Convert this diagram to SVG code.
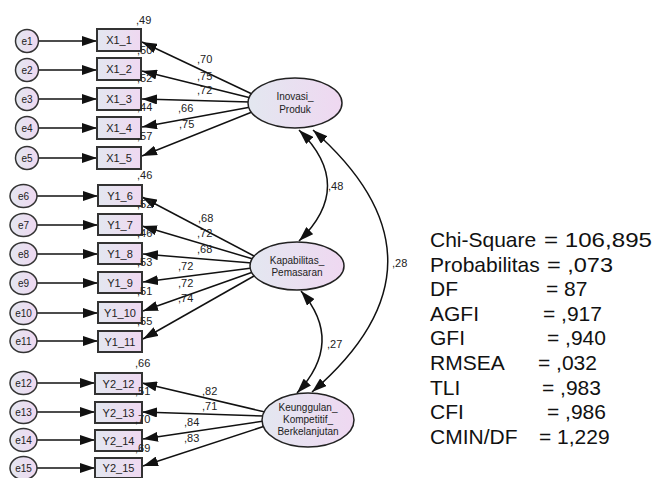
<svg xmlns="http://www.w3.org/2000/svg" width="655" height="478" viewBox="0 0 655 478">
<defs>
<linearGradient id="g" x1="0" y1="0" x2="1" y2="0">
<stop offset="0" stop-color="#e3e7f0"/>
<stop offset="1" stop-color="#efd8f1"/>
</linearGradient>
<marker id="ah" viewBox="0 0 15 10" refX="15" refY="5" markerWidth="15" markerHeight="10" markerUnits="userSpaceOnUse" orient="auto-start-reverse">
<path d="M0,0 L15,5 L0,10 z" fill="#111"/>
</marker>
<style>
.box{fill:url(#g);stroke:#333;stroke-width:2}
.err{fill:url(#g);stroke:#333;stroke-width:1.5}
.lat{fill:url(#g);stroke:#222;stroke-width:1.5}
.t{font-family:"Liberation Sans",Arial,sans-serif;font-size:11px;fill:#222}
.tc{font-family:"Liberation Sans",Arial,sans-serif;font-size:11px;fill:#222;text-anchor:middle}
.te{font-family:"Liberation Sans",Arial,sans-serif;font-size:10px;fill:#222;text-anchor:middle}
.tl{font-family:"Liberation Sans",Arial,sans-serif;font-size:10px;fill:#222;text-anchor:middle}
.ln{fill:none;stroke:#111;stroke-width:1.5;marker-end:url(#ah)}
.cv{fill:none;stroke:#111;stroke-width:1.5;marker-end:url(#ah);marker-start:url(#ah)}
.st{font-family:"Liberation Sans",Arial,sans-serif;font-size:21px;fill:#111}
</style>
</defs>
<rect width="655" height="478" fill="#fff"/>

<g id="connectors">
<line class="ln" x1="38.5" y1="41" x2="97" y2="41"/>
<line class="ln" x1="38.5" y1="70" x2="97" y2="70"/>
<line class="ln" x1="38.5" y1="99" x2="97" y2="99"/>
<line class="ln" x1="38.5" y1="128" x2="97" y2="128"/>
<line class="ln" x1="38.5" y1="158" x2="97" y2="158"/>
<line class="ln" x1="37" y1="196" x2="98" y2="196"/>
<line class="ln" x1="37" y1="225" x2="98" y2="225"/>
<line class="ln" x1="37" y1="254" x2="98" y2="254"/>
<line class="ln" x1="37" y1="283" x2="98" y2="283"/>
<line class="ln" x1="37" y1="313" x2="98" y2="313"/>
<line class="ln" x1="37" y1="341" x2="98" y2="341"/>
<line class="ln" x1="37" y1="383" x2="95" y2="383"/>
<line class="ln" x1="37" y1="412" x2="95" y2="412"/>
<line class="ln" x1="37" y1="440" x2="95" y2="440"/>
<line class="ln" x1="37" y1="468" x2="95" y2="468"/>
<line class="ln" x1="252" y1="94" x2="142" y2="42"/>
<line class="ln" x1="251" y1="98" x2="142" y2="71"/>
<line class="ln" x1="250" y1="102" x2="142" y2="99"/>
<line class="ln" x1="251" y1="107" x2="142" y2="127"/>
<line class="ln" x1="252" y1="112" x2="142" y2="156"/>
<line class="ln" x1="254" y1="256" x2="142" y2="197"/>
<line class="ln" x1="253" y1="259" x2="142" y2="226"/>
<line class="ln" x1="252" y1="263" x2="143" y2="254"/>
<line class="ln" x1="252" y1="268" x2="143" y2="282"/>
<line class="ln" x1="253" y1="272" x2="143" y2="311"/>
<line class="ln" x1="254" y1="276" x2="143" y2="339"/>
<line class="ln" x1="265" y1="412" x2="142" y2="383"/>
<line class="ln" x1="264" y1="416" x2="142" y2="412"/>
<line class="ln" x1="264" y1="421" x2="143" y2="439"/>
<line class="ln" x1="265" y1="426" x2="143" y2="466"/>
<path class="cv" d="M299,130 Q356,186 299,241"/>
<path class="cv" d="M313,130 Q463,262 312,392"/>
<path class="cv" d="M301,291 Q345,342 297,393"/>
<text class="t" x="197" y="63">,70</text>
<text class="t" x="197" y="80">,75</text>
<text class="t" x="197" y="94">,72</text>
<text class="t" x="178" y="112">,66</text>
<text class="t" x="179" y="128">,75</text>
<text class="t" x="198" y="222">,68</text>
<text class="t" x="197" y="237">,72</text>
<text class="t" x="197" y="253">,68</text>
<text class="t" x="178" y="270">,72</text>
<text class="t" x="178" y="287">,72</text>
<text class="t" x="178" y="302">,74</text>
<text class="t" x="202" y="395">,82</text>
<text class="t" x="202" y="410">,71</text>
<text class="t" x="184" y="426">,84</text>
<text class="t" x="184" y="442">,83</text>
<text class="t" x="328" y="190">,48</text>
<text class="t" x="392" y="267">,28</text>
<text class="t" x="327" y="348">,27</text>
</g>

<g id="e1"><circle class="err" cx="27" cy="41" r="11.5"/><text class="te" x="27" y="44.5">e1</text></g>
<g id="e2"><circle class="err" cx="27" cy="70" r="11.5"/><text class="te" x="27" y="73.5">e2</text></g>
<g id="e3"><circle class="err" cx="27" cy="99" r="11.5"/><text class="te" x="27" y="102.5">e3</text></g>
<g id="e4"><circle class="err" cx="27" cy="128" r="11.5"/><text class="te" x="27" y="131.5">e4</text></g>
<g id="e5"><circle class="err" cx="27" cy="158" r="11.5"/><text class="te" x="27" y="161.5">e5</text></g>
<g id="e6"><ellipse class="err" cx="23.5" cy="196" rx="13.5" ry="11.5"/><text class="te" x="23.5" y="199.5">e6</text></g>
<g id="e7"><ellipse class="err" cx="23.5" cy="225" rx="13.5" ry="11.5"/><text class="te" x="23.5" y="228.5">e7</text></g>
<g id="e8"><ellipse class="err" cx="23.5" cy="254" rx="13.5" ry="11.5"/><text class="te" x="23.5" y="257.5">e8</text></g>
<g id="e9"><ellipse class="err" cx="23.5" cy="283" rx="13.5" ry="11.5"/><text class="te" x="23.5" y="286.5">e9</text></g>
<g id="e10"><ellipse class="err" cx="23.5" cy="313" rx="13.5" ry="11.5"/><text class="te" x="23.5" y="316.5">e10</text></g>
<g id="e11"><ellipse class="err" cx="23.5" cy="341" rx="13.5" ry="11.5"/><text class="te" x="23.5" y="344.5">e11</text></g>
<g id="e12"><ellipse class="err" cx="23.5" cy="383" rx="13.5" ry="11.5"/><text class="te" x="23.5" y="386.5">e12</text></g>
<g id="e13"><ellipse class="err" cx="23.5" cy="412" rx="13.5" ry="11.5"/><text class="te" x="23.5" y="415.5">e13</text></g>
<g id="e14"><ellipse class="err" cx="23.5" cy="440" rx="13.5" ry="11.5"/><text class="te" x="23.5" y="443.5">e14</text></g>
<g id="e15"><ellipse class="err" cx="23.5" cy="468" rx="13.5" ry="11.5"/><text class="te" x="23.5" y="471.5">e15</text></g>

<g id="X1_1"><rect class="box" x="97" y="29" width="44" height="22"/><text class="tc" x="119" y="44">X1_1</text><text class="t" x="136" y="24">,49</text></g>
<g id="X1_2"><rect class="box" x="97" y="58" width="44" height="22"/><text class="tc" x="119" y="73">X1_2</text><text class="t" x="137" y="54">,50</text></g>
<g id="X1_3"><rect class="box" x="97" y="88" width="44" height="22"/><text class="tc" x="119" y="103">X1_3</text><text class="t" x="137" y="82">,52</text></g>
<g id="X1_4"><rect class="box" x="97" y="117" width="44" height="22"/><text class="tc" x="119" y="132">X1_4</text><text class="t" x="137" y="111">,44</text></g>
<g id="X1_5"><rect class="box" x="97" y="147" width="44" height="22"/><text class="tc" x="119" y="162">X1_5</text><text class="t" x="137" y="140">,57</text></g>

<g id="Y1_6"><rect class="box" x="98" y="185" width="44" height="21"/><text class="tc" x="120" y="199.5">Y1_6</text><text class="t" x="137" y="179">,46</text></g>
<g id="Y1_7"><rect class="box" x="98" y="214" width="44" height="21"/><text class="tc" x="120" y="228.5">Y1_7</text><text class="t" x="137" y="208">,52</text></g>
<g id="Y1_8"><rect class="box" x="98" y="243" width="44" height="21"/><text class="tc" x="120" y="257.5">Y1_8</text><text class="t" x="137" y="237">,46</text></g>
<g id="Y1_9"><rect class="box" x="98" y="272" width="44" height="21"/><text class="tc" x="120" y="286.5">Y1_9</text><text class="t" x="137" y="266">,53</text></g>
<g id="Y1_10"><rect class="box" x="98" y="302" width="44" height="21"/><text class="tc" x="120" y="316.5">Y1_10</text><text class="t" x="137" y="295">,51</text></g>
<g id="Y1_11"><rect class="box" x="98" y="331" width="44" height="21"/><text class="tc" x="120" y="345.5">Y1_11</text><text class="t" x="137" y="325">,55</text></g>

<g id="Y2_12"><rect class="box" x="95" y="373" width="47" height="21"/><text class="tc" x="118.5" y="387.5">Y2_12</text><text class="t" x="135" y="367">,66</text></g>
<g id="Y2_13"><rect class="box" x="95" y="402" width="47" height="21"/><text class="tc" x="118.5" y="416.5">Y2_13</text><text class="t" x="135" y="395">,51</text></g>
<g id="Y2_14"><rect class="box" x="95" y="430" width="47" height="21"/><text class="tc" x="118.5" y="444.5">Y2_14</text><text class="t" x="135" y="423">,70</text></g>
<g id="Y2_15"><rect class="box" x="95" y="458" width="47" height="20"/><text class="tc" x="118.5" y="472">Y2_15</text><text class="t" x="135" y="452">,69</text></g>

<g id="Inovasi_Produk"><ellipse class="lat" cx="295" cy="103" rx="47" ry="25"/><text class="tl" x="295" y="100">Inovasi_</text><text class="tl" x="295" y="113">Produk</text></g>
<g id="Kapabilitas_Pemasaran"><ellipse class="lat" cx="297" cy="266" rx="47" ry="24"/><text class="tl" x="297" y="263.5">Kapabilitas_</text><text class="tl" x="297" y="276">Pemasaran</text></g>
<g id="Keunggulan"><ellipse class="lat" cx="308" cy="420" rx="46" ry="27"/><text class="tl" x="308" y="410.5">Keunggulan_</text><text class="tl" x="308" y="422.5">Kompetitif_</text><text class="tl" x="308" y="435">Berkelanjutan</text></g>

<g id="fit-stats">
<text class="st" x="430" y="247">Chi-Square</text>
<text class="st" x="544" y="247" textLength="108" lengthAdjust="spacingAndGlyphs">= 106,895</text>
<text class="st" x="430" y="271.6">Probabilitas</text>
<text class="st" x="547" y="271.6" textLength="66" lengthAdjust="spacingAndGlyphs">= ,073</text>
<text class="st" x="430" y="296.2">DF</text>
<text class="st" x="546" y="296.2">= 87</text>
<text class="st" x="430" y="320.8">AGFI</text>
<text class="st" x="543" y="320.8">= ,917</text>
<text class="st" x="430" y="345.4">GFI</text>
<text class="st" x="547" y="345.4">= ,940</text>
<text class="st" x="430" y="370">RMSEA</text>
<text class="st" x="538" y="370">= ,032</text>
<text class="st" x="430" y="394.6">TLI</text>
<text class="st" x="542" y="394.6">= ,983</text>
<text class="st" x="430" y="419.2">CFI</text>
<text class="st" x="547" y="419.2">= ,986</text>
<text class="st" x="430" y="443.8">CMIN/DF</text>
<text class="st" x="539" y="443.8">= 1,229</text>
</g>
</svg>
